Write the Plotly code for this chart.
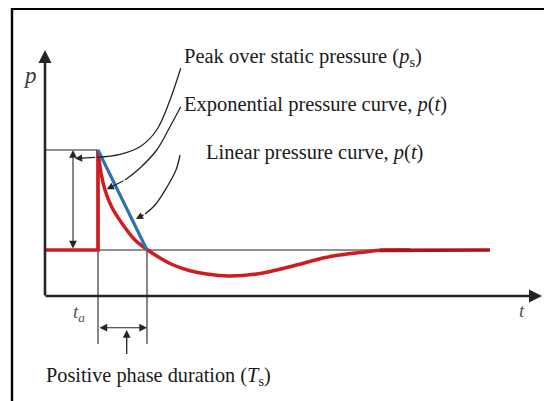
import plotly.graph_objects as go

# ---- schematic values (time t, pressure p; arbitrary units) ----
t_a = 5.3          # arrival time
T_s = 4.9          # positive phase duration
p_0 = 4.6          # ambient (static) pressure
p_peak = 14.6      # peak pressure

# step before arrival
step_t = [0.0, t_a, t_a]
step_p = [p_0, p_0, p_peak]

# exponential pressure curve
exp_t = [5.3, 5.33, 5.6, 6.0, 6.67, 7.67, 9.0, 10.2, 11.5, 12.83, 14.5, 16.17,
         18.33, 21.17, 24.5, 27.8, 29.5, 32.2, 33.5, 36.5]
exp_p = [14.6, 14.3, 12.3, 10.6, 8.9, 7.3, 5.6, 4.65, 3.8, 3.1, 2.53, 2.2,
         2.0, 2.2, 2.93, 3.8, 4.1, 4.43, 4.57, 4.6]
tail_t = [33.5, 44.5]
tail_p = [4.57, 4.6]

# linear pressure curve
lin_t = [t_a, t_a + T_s]
lin_p = [p_peak, p_0]

# axis extents
t_axis_end = 49.7
p_axis_end = 24.6

# leader curves of the labels
lead1_t = [13.57, 12.5, 11.17, 9.5, 7.5, 5.17, 3.0]
lead1_p = [22.77, 19.6, 16.6, 14.93, 14.17, 13.87, 13.75]
lead2_t = [13.57, 12.5, 11.17, 9.5, 8.0, 6.17]
lead2_p = [18.93, 16.93, 14.6, 12.8, 11.6, 10.67]
lead3_t = [13.5, 13.1, 12.2, 11.0, 10.0, 9.1]
lead3_p = [14.1, 12.6, 10.9, 9.1, 8.2, 7.7]

labels = ["Peak over static pressure (<i>p</i><sub>s</sub>)",
          "Exponential pressure curve, <i>p</i>(<i>t</i>)",
          "Linear pressure curve, <i>p</i>(<i>t</i>)",
          "Positive phase duration (<i>T</i><sub>s</sub>)"]

RED = "#cf1c20"
RED_D = "#ad121a"
BLUE = "#2f72b2"
BLK = "#252525"
FONT = "Liberation Serif"

fig = go.Figure()

def line(x, y, color=BLK, width=1.1, shape="linear"):
    fig.add_trace(go.Scatter(x=x, y=y, mode="lines", hoverinfo="skip",
                             line=dict(color=color, width=width, shape=shape),
                             showlegend=False))

# frame (left and top edges)
line([-3.3, -3.3], [28.85, -10.6], color="black", width=2.4)
line([-3.4, 50.8], [28.75, 28.75], color="black", width=2.8)

# thin reference lines
line([0, t_a], [p_peak, p_peak])
line([0, tail_t[-1]], [p_0, p_0])
line([t_a, t_a], [p_peak, -4.8])
line([t_a + T_s, t_a + T_s], [p_0, -4.8])

# red curves
line(step_t, step_p, color=RED, width=3.7)
line(exp_t, exp_p, color=RED, width=3.5, shape="spline")
line(tail_t, tail_p, color=RED_D, width=3.7)
# blue linear
line(lin_t, lin_p, color=BLUE, width=3.2)

# leader curves
line(lead1_t[:-1], lead1_p[:-1], width=1.3, shape="spline")
line(lead2_t[:-1], lead2_p[:-1], width=1.3, shape="spline")
line(lead3_t[:-1], lead3_p[:-1], width=1.3, shape="spline")

ann = []

def arrow(x, y, ax, ay, width=1.2, size=1.2, side="end", color=BLK):
    ann.append(dict(x=x, y=y, ax=ax, ay=ay, xref="x", yref="y", axref="x", ayref="y",
                    text="", showarrow=True, arrowhead=2, arrowsize=size,
                    arrowwidth=width, arrowcolor=color, arrowside=side, standoff=0,
                    startstandoff=0))

# axes with arrows
arrow(0, p_axis_end, 0, -0.1, width=2.6, size=1.0)
arrow(t_axis_end, 0, -0.1, 0, width=2.6, size=1.0)

# leader arrow heads
for lt, lp in [(lead1_t, lead1_p), (lead2_t, lead2_p), (lead3_t, lead3_p)]:
    arrow(lt[-1], lp[-1], lt[-2], lp[-2], width=1.3, size=1.1)

# double arrows
arrow(2.8, p_peak, 2.8, p_0, width=1.1, size=1.4, side="end+start")
arrow(t_a + T_s, -3.17, t_a, -3.17, width=1.1, size=1.4, side="end+start")
arrow(8.17, -3.4, 8.17, -5.95, width=1.3, size=1.2)

def text(x, y, s, size=20.5, xanchor="left", color="#1a1a1a"):
    ann.append(dict(x=x, y=y, xref="x", yref="y", text=s, showarrow=False,
                    xanchor=xanchor, yanchor="middle",
                    font=dict(family=FONT, size=size, color=color)))

text(13.7, 23.9, labels[0])
text(13.7, 19.2, labels[1])
text(15.9, 14.4, labels[2])
text(-0.1, -8.0, labels[3], size=20.3)
text(-1.5, 22.1, "<i>p</i>", size=23, xanchor="center", color="#3a3a3a")
text(47.7, -1.4, "<i>t</i>", size=19, xanchor="center", color="#555")
text(3.4, -1.7, "<i>t</i><sub><i>a</i></sub>", size=19, xanchor="center", color="#555")

# the page body has an 8px margin: the figure covers window pixels 8..552 x 8..401
fig.update_layout(
    width=544, height=393, autosize=False,
    margin=dict(l=0, r=0, t=0, b=0, pad=0),
    paper_bgcolor="white", plot_bgcolor="white",
    xaxis=dict(range=[-3.7, 50.7], visible=False, fixedrange=True),
    yaxis=dict(range=[-10.5, 28.8], visible=False, fixedrange=True),
    annotations=ann,
)

fig.write_html("out.html")
